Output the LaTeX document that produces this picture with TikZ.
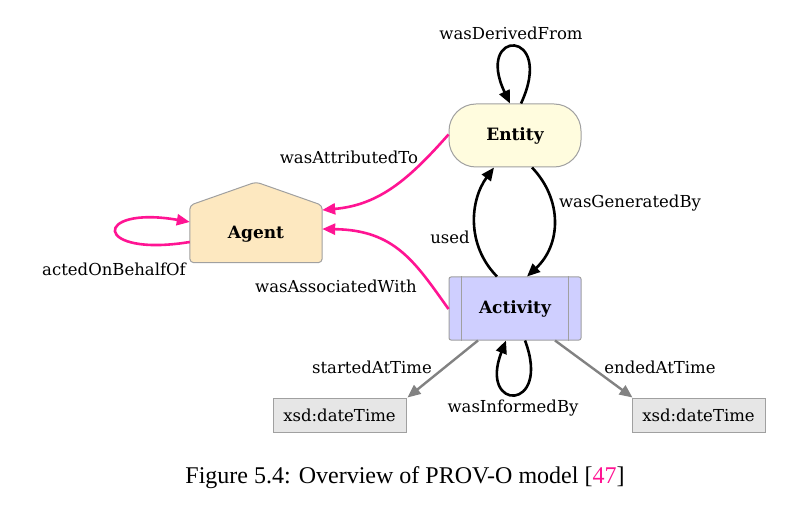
\documentclass[tikz,border=0pt]{standalone}
\usepackage{fontspec}
\setmainfont{DejaVu Serif}
\newfontfamily\capfont{Liberation Serif}
\usepackage{tikz}
\usetikzlibrary{arrows.meta, backgrounds}

\definecolor{entityfill}{RGB}{255,252,222}
\definecolor{agentfill}{RGB}{253,232,192}
\definecolor{activityfill}{RGB}{207,207,255}
\definecolor{timefill}{RGB}{230,230,230}
\definecolor{boxline}{RGB}{160,160,160}
\definecolor{provpink}{RGB}{255,20,147}
\definecolor{timeline}{RGB}{130,130,130}

\begin{document}
\begin{tikzpicture}[
        x=1pt, y=-1pt,
        font=\fontsize{16.5}{19}\selectfont,
        entitybox/.style={rectangle, draw=boxline, line width=1pt, fill=entityfill, rounded corners=27pt, minimum width=132pt, minimum height=63pt, font=\fontsize{17}{19}\selectfont\bfseries},
        agentbox/.style={rectangle, minimum width=132pt, minimum height=57pt, inner sep=0pt, font=\fontsize{17}{19}\selectfont\bfseries},
        activitybox/.style={rectangle, draw=boxline, line width=1pt, fill=activityfill, rounded corners=2pt, minimum width=132pt, minimum height=63pt, font=\fontsize{17}{19}\selectfont\bfseries},
        timebox/.style={rectangle, draw=boxline, line width=1pt, fill=timefill, minimum width=133pt, minimum height=34pt},
        lbl/.style={inner sep=0pt},
        blackarrow/.style={line width=2.6pt, -{Triangle[length=13pt, width=11pt]}},
        pinkarrow/.style={provpink, line width=2.6pt, -{Triangle[length=13pt, width=11pt]}},
        grayarrow/.style={timeline, line width=2.4pt, -{Triangle[length=13pt, width=11pt]}}
    ]
    \useasboundingbox (0,0) rectangle (805,510);

    % Nodes
    \node (entity) [entitybox] at (515,135.5) {Entity};
    \node (activity) [activitybox] at (515,308.5) {Activity};
    \node (agent) [agentbox] at (256,234) {Agent};
    \node (startTime) [timebox] at (339.5,415) {xsd:dateTime};
    \node (endTime) [timebox] at (698.5,415) {xsd:dateTime};

    % Agent outline (house)
    \begin{scope}[on background layer]
        \draw [draw=boxline, line width=1pt, fill=agentfill, rounded corners=4pt]
            (agent.south west) -- (agent.north west) -- (256,182) -- (agent.north east)
            -- (agent.south east) -- cycle;
    \end{scope}

    % Activity side bars
    \draw [boxline, line width=1pt] ([xshift=13pt]activity.north west) -- ([xshift=13pt]activity.south west);
    \draw [boxline, line width=1pt] ([xshift=-13pt]activity.north east) -- ([xshift=-13pt]activity.south east);

    % Arrows
    \draw [blackarrow] ([xshift=6pt]entity.north) .. controls (556,28) and (474,28) .. ([xshift=-5pt]entity.north);
    \draw [blackarrow] ([xshift=-18pt]activity.north) .. controls (466,245) and (470,200) .. ([xshift=-21pt]entity.south);
    \draw [blackarrow] ([xshift=17pt]entity.south) .. controls (563,200) and (561,245) .. ([xshift=12pt]activity.north);
    \draw [blackarrow] ([xshift=10pt]activity.south) .. controls (552,412) and (478,412) .. ([xshift=-9pt]activity.south);
    \draw [pinkarrow] ([yshift=1pt]entity.west) .. controls (410,178) and (380,205) .. ([yshift=24pt]agent.east);
    \draw [pinkarrow] ([yshift=-0.5pt]activity.west) .. controls (415,262) and (395,230) .. ([yshift=5pt]agent.east);
    \draw [pinkarrow] ([yshift=-8pt]agent.west) .. controls (92,258) and (92,205) .. ([yshift=12pt]agent.west);
    \draw [grayarrow] ([xshift=-37pt]activity.south) -- ([xshift=68pt]startTime.north);
    \draw [grayarrow] ([xshift=40pt]activity.south) -- ([xshift=-66pt]endTime.north);

    % Labels
    \node (lDerived) [lbl] at (511,33) {wasDerivedFrom};
    \node (lAttributed) [lbl] at (349,157) {wasAttributedTo};
    \node (lBehalf) [lbl] at (114,269) {actedOnBehalfOf};
    \node (lAssociated) [lbl] at (336,286) {wasAssociatedWith};
    \node (lUsed) [lbl] at (450,237) {used};
    \node (lGenerated) [lbl] at (630,203) {wasGeneratedBy};
    \node (lStarted) [lbl] at (372,367) {startedAtTime};
    \node (lEnded) [lbl] at (660,367) {endedAtTime};
    \node (lInformed) [lbl] at (513,408) {wasInformedBy};

    % Caption
    \node (caption) [lbl, font=\capfont\fontsize{24}{28}\selectfont] at (405,478) {Figure 5.4: Overview of PROV-O model [\textcolor{provpink}{47}]};

\end{tikzpicture}
\end{document}
